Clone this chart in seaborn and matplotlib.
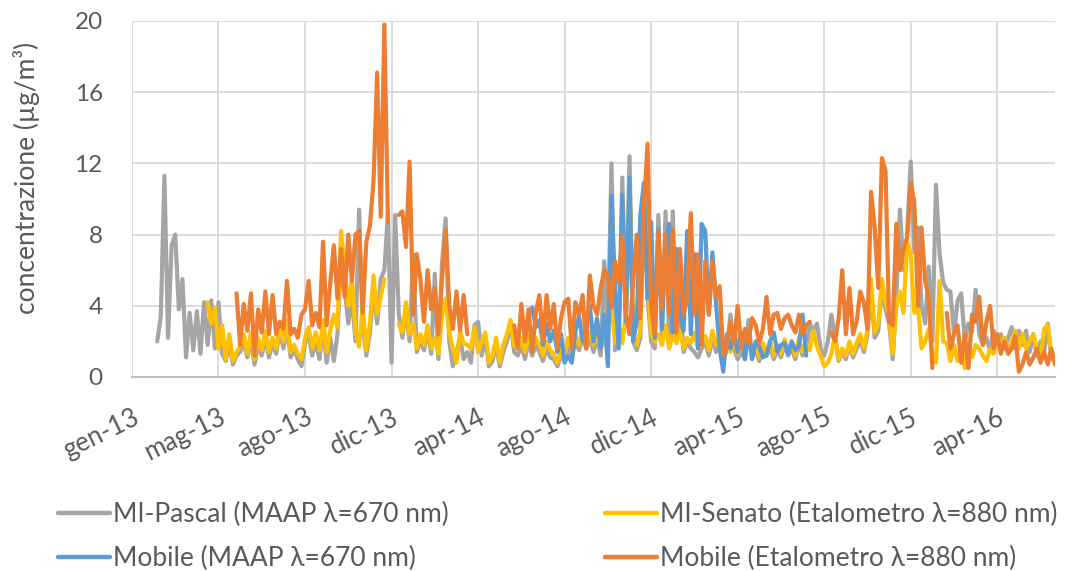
import numpy as np
import pandas as pd
import seaborn as sns
import matplotlib.pyplot as plt
from matplotlib.lines import Line2D

# concentrazioni, un valore ogni 5 giorni (NaN = dato mancante)
passo = '5D'

pascal_inizio = '2013-02-05'
pascal_maap = [
    2.0, 3.4, 11.3, 2.2, 7.4, 8.0, 3.8, 5.5, 1.1, 3.6,
    1.5, 3.7, 1.3, 4.2, 1.8, 4.3, 1.6, 4.2, 1.3, 0.9,
    1.9, 0.7, 1.2, 1.4, 2.0, 1.1, 2.1, 0.7, 1.8, 1.2,
    2.2, 1.1, 1.9, 1.3, 2.6, 1.6, 2.8, 1.1, 1.5, 1.0,
    0.6, 1.9, 2.4, 1.2, 2.0, 1.0, 2.8, 0.8, 2.2, 0.9,
    2.4, 6.5, 5.0, 3.0, 4.5, 2.0, 9.4, 3.0, 1.2, 2.5,
    5.0, 3.0, 5.5, 6.0, 9.2, 0.8, 9.1, 3.5, 2.2, 3.8,
    2.0, 6.9, 1.4, 2.0, 1.5, 2.6, 1.3, 5.8, 1.0, 6.4,
    8.9, 2.0, 0.6, 1.4, 2.2, 1.0, 1.4, 0.8, 2.9, 3.1,
    1.2, 2.2, 0.6, 0.9, 1.8, 0.6, 1.4, 2.0, 3.0, 1.4,
    1.2, 1.8, 1.0, 2.0, 1.2, 1.8, 1.4, 0.9, 1.6, 1.1,
    1.0, 0.6, 1.2, 0.9, 1.8, 1.2, 2.0, 1.5, 2.2, 1.6,
    2.2, 1.4, 2.2, 1.2, 6.5, 2.6, 12.0, 1.5, 2.6, 11.2,
    3.0, 12.4, 2.0, 1.5, 2.2, 10.0, 4.5, 2.0, 1.6, 9.1,
    2.4, 9.3, 2.0, 9.3, 2.0, 4.4, 1.4, 2.0, 1.6, 1.4,
    1.1, 1.6, 2.0, 1.2, 2.2, 1.4, 2.0, 1.0, 1.5, 3.5,
    1.6, 1.0, 1.4, 1.0, 3.2, 1.1, 1.5, 0.9, 1.6, 1.2,
    1.7, 1.0, 1.5, 1.1, 1.8, 1.2, 1.6, 1.0, 1.9, 1.2,
    1.6, 3.0, 2.6, 3.0, 1.6, 1.2, 2.0, 3.5, 2.2, 0.9,
    1.4, 1.0, 1.8, 1.1, 1.6, 2.0, 1.4, 2.4, 4.8, 2.2,
    2.6, 5.0, 3.8, 3.0, 1.0, 4.5, 9.4, 6.0, 8.0, 12.1,
    7.0, 8.4, 4.0, 3.0, 6.2, 2.0, 10.8, 6.9, 5.3, 4.9,
    4.8, 2.4, 4.3, 4.7, 2.0, 3.0, 2.5, 4.9, 2.4, 1.8,
    2.2, 1.5, 2.6, 2.0, 2.4, 1.6, 2.2, 2.8, 1.6, 2.6,
    1.8, 2.6, 1.4, 2.4, 1.2, 2.0, 1.4, 3.0, 1.0,
]

senato_inizio = '2013-04-16'
senato_etal = [
    4.2, 3.0, 3.9, 1.6, 2.9, 1.0,
    2.4, 0.9, 1.4, 1.7, 2.4, 1.3, 2.5, 1.0, 2.2, 1.5,
    2.6, 1.4, 2.2, 1.6, 3.0, 2.0, 3.2, 1.4, 1.8, 1.3,
    1.0, 2.2, 2.8, 1.6, 2.5, 1.5, 3.2, 1.4, 2.6, 3.5,
    2.8, 8.2, 6.0, 4.0, 5.5, 2.6, 1.7, 4.0, 1.5, 3.0,
    5.7, 3.5, 4.5, 5.5, np.nan, np.nan, np.nan, 3.0, 2.5, 4.2,
    2.4, 3.0, 1.6, 2.4, 1.8, 2.9, 1.6, 2.2, 1.3, 3.5,
    4.4, 2.5, 1.6, 0.8, 2.6, 1.9, 1.8, 1.6, 2.8, 1.4,
    2.0, 2.5, 0.8, 1.2, 2.2, 0.8, 1.8, 2.4, 3.2, 1.8,
    1.6, 2.2, 1.4, 2.3, 1.6, 2.2, 1.8, 1.2, 2.0, 1.5,
    1.3, 0.8, 1.5, 1.2, 2.2, 1.6, 2.4, 1.8, 2.6, 2.0,
    2.5, 1.8, 2.5, 1.6, 1.9, 3.0, 4.0, 1.9, 3.0, 1.9,
    3.5, 11.1, 2.4, 1.8, 2.6, 9.5, 5.6, 2.4, 2.0, 2.4,
    1.8, 2.9, 1.6, 2.4, 1.9, 2.6, 1.6, 2.2, 1.9, 2.5,
    1.6, 1.9, 2.3, 1.5, 2.6, 1.8, 2.3, 1.3, 1.8, 1.4,
    2.0, 1.3, 1.7, 1.2, 2.0, 1.4, 1.8, 1.1, 1.9, 1.4,
    2.0, 1.2, 1.8, 1.3, 2.1, 1.5, 1.9, 1.2, 2.2, 1.4,
    1.9, 1.5, 2.6, 1.7, 1.2, 0.6, 0.8, 1.3, 2.4, 1.0,
    1.6, 1.2, 2.0, 1.3, 1.9, 2.4, 1.6, 2.7, 5.5, 2.5,
    3.0, 5.5, 4.2, 3.5, 1.3, 4.0, 4.8, 3.6, 7.6, 6.9,
    3.6, 4.0, 1.6, 2.0, 2.7, 1.4, 0.8, 5.4, 2.0, 1.9,
    0.9, 1.8, 0.9, 1.6, 0.5, 1.6, 1.1, 1.8, 1.6, 1.2,
    0.9, 1.6, 1.3, 2.4, 1.8, 2.2, 1.4, 2.0, 2.6, 1.6,
    2.4, 1.6, 2.0, 2.4, 1.6, 1.0, 2.7, 2.9, 1.3, 1.0,
]

mobile_maap_inizio = '2014-07-10'
mobile_maap = [
    3.9, 2.8, 3.2, 1.8, 3.0, 2.0,
    2.6, 1.4, 2.4, 0.8, 1.2, 0.8, 2.6, 3.4, 2.0, 3.0,
    4.0, 2.0, 3.3, 1.6, 3.5, 0.6, 10.2, 5.0, 1.6, 10.2,
    3.1, 11.2, 2.0, 3.1, 9.1, 10.9, 4.4, 8.7, 2.2, 8.3,
    2.7, 7.6, 8.6, 2.5, 7.2, 3.5, 2.6, 8.2, 2.4, 6.9,
    1.6, 8.6, 8.2, 3.5, 7.0, 4.1, 1.6, 0.3, 2.4, 1.6,
    2.5, 1.4, 2.5, 1.0, 2.5, 1.0, 2.0, 1.7, 1.1, 1.2,
    2.0, 2.5, 1.4, 1.8, 1.9, 1.3, 2.0, 1.5, 1.7, 3.5,
    1.2,
]

mobile_etal_inizio = '2013-05-26'
mobile_etal = [
    4.7, 1.8, 4.1, 2.6, 4.7, 1.2, 3.8, 2.5,
    4.8, 2.4, 4.6, 2.4, 3.1, 2.7, 5.4, 2.4, 2.7, 2.2,
    3.5, 3.8, 5.4, 2.9, 3.6, 2.8, 7.6, 2.9, 5.3, 7.4,
    4.4, 7.2, 4.5, 8.0, 5.4, 8.0, 8.2, 3.6, 7.6, 8.5,
    11.0, 17.1, 9.0, 19.8, 8.7, np.nan, np.nan, 9.1, 9.3, 7.3,
    12.1, 3.5, 6.9, 5.5, 3.1, 6.0, 3.8, 5.0, 2.4, 5.5,
    8.3, 4.0, 2.7, 4.8, 2.6, 4.6, 2.4, np.nan, np.nan, np.nan,
    np.nan, np.nan, np.nan, np.nan, np.nan, np.nan, np.nan, np.nan, np.nan, 2.9,
    1.6, 4.1, 2.0, 3.8, 1.4, 3.6, 4.6, 2.0, 4.6, 2.7,
    4.1, 1.6, 3.3, 4.2, 4.4, 1.6, 4.2, 3.5, 4.6, 1.6,
    5.7, 4.0, 3.5, 5.0, 6.0, 5.7, 3.9, 6.5, 5.3, 7.9,
    3.5, 2.4, 5.3, 8.0, 3.3, 9.6, 13.1, 4.0, 2.4, 8.2,
    3.8, 8.0, 3.5, 8.3, 2.5, 7.2, 3.5, 4.4, 9.2, 3.5,
    6.9, 1.8, 6.5, 3.5, 6.5, 4.5, 5.1, 1.2, 1.8, 3.1,
    1.9, 4.0, 1.6, 2.7, 1.9, 3.3, 2.9, 1.9, 2.7, 4.5,
    2.4, 3.5, 3.6, 2.7, 3.3, 3.5, 2.9, 2.5, 3.5, 2.4,
    2.9, 3.1, np.nan, np.nan, np.nan, np.nan, np.nan, 2.5, 2.0, 3.3,
    6.0, 2.4, 5.0, 2.4, 3.1, 4.8, 4.2, 2.7, 10.4, 8.4,
    5.0, 12.3, 11.6, 3.1, 2.9, 8.6, 6.0, 7.2, 7.8, 10.9,
    9.8, 4.0, 8.4, 5.4, 4.4, 0.5, np.nan, np.nan, np.nan, 3.6,
    1.6, 2.4, 2.9, 0.8, 2.4, 0.5, 3.5, 3.1, 4.5, 1.8,
    3.1, 4.0, 1.6, 2.4, 1.3, 2.0, 1.3, 1.6, 2.3, 0.3,
    0.7, 1.4, 0.7, 1.1, 1.6, 0.8, 1.4, 0.7, 1.6, 0.7,
]

nomi = ['MI-Pascal (MAAP λ=670 nm)', 'MI-Senato (Etalometro λ=880 nm)',
        'Mobile (MAAP λ=670 nm)', 'Mobile (Etalometro λ=880 nm)']
colori = ['#A5A5A5', '#FFC000', '#5B9BD5', '#ED7D31']
etichette_x = ['gen-13', 'mag-13', 'ago-13', 'dic-13', 'apr-14', 'ago-14',
               'dic-14', 'apr-15', 'ago-15', 'dic-15', 'apr-16']

# tabella lunga, con un numero di tratto per spezzare le linee dove mancano dati
pezzi = []
for nome, inizio, valori in zip(nomi,
                                [pascal_inizio, senato_inizio, mobile_maap_inizio, mobile_etal_inizio],
                                [pascal_maap, senato_etal, mobile_maap, mobile_etal]):
    s = pd.Series(valori, index=pd.date_range(inizio, periods=len(valori), freq=passo))
    d = pd.DataFrame({'data': s.index, 'conc': s.values, 'serie': nome,
                      'tratto': s.isna().cumsum().values})
    pezzi.append(d.dropna(subset=['conc']))
df = pd.concat(pezzi, ignore_index=True)

sns.set_style('white')
plt.rcParams['font.family'] = ['Lato', 'DejaVu Sans']
grigio_testo = '#595959'

fig = plt.figure(figsize=(10.72, 5.71), dpi=100)
ax = fig.add_axes([0.1231, 0.3398, 0.8610, 0.6235])

sns.lineplot(data=df, x='data', y='conc', hue='serie', hue_order=nomi, palette=colori,
             units='tratto', estimator=None, lw=3.0, legend=False, ax=ax)

ax.set_xlim(pd.Timestamp('2013-01-01'), pd.Timestamp('2016-07-04'))
ax.set_ylim(0, 20)
ax.set_yticks(range(0, 21, 4))
ax.set_xticks(pd.date_range('2013-01-01', periods=len(etichette_x), freq='120D'))
ax.set_xticklabels(etichette_x, rotation=26, ha='right', rotation_mode='anchor')

ax.grid(True, color='#D9D9D9', linewidth=1.3)
ax.set_axisbelow(True)
for lato in ['top', 'right', 'left']:
    ax.spines[lato].set_visible(False)
ax.spines['bottom'].set_color('#BFBFBF')
ax.spines['bottom'].set_linewidth(1.5)

ax.tick_params(length=0, labelsize=17.5, labelcolor=grigio_testo)
ax.tick_params(axis='y', pad=21)
ax.tick_params(axis='x', pad=20, labelsize=18.5)

ax.set_xlabel('')
ax.set_ylabel('concentrazione (µg/m³)', fontsize=19, color=grigio_testo)
ax.yaxis.set_label_coords(-0.0997, 0.559)

# legenda su due colonne sotto il grafico
maniglie = [Line2D([], [], color=c, linewidth=3.2) for c in colori]
opz = dict(frameon=False, loc='upper left', borderpad=0, borderaxespad=0,
           handlelength=1.97, handletextpad=0.1, labelspacing=0.72,
           fontsize=19, labelcolor=grigio_testo)
fig.legend([maniglie[0], maniglie[2]], [nomi[0], nomi[2]],
           bbox_to_anchor=(58 / 1072, 1 - 502 / 571), **opz)
fig.legend([maniglie[1], maniglie[3]], [nomi[1], nomi[3]],
           bbox_to_anchor=(605 / 1072, 1 - 502 / 571), **opz)

fig.savefig('out.png', dpi=100)
